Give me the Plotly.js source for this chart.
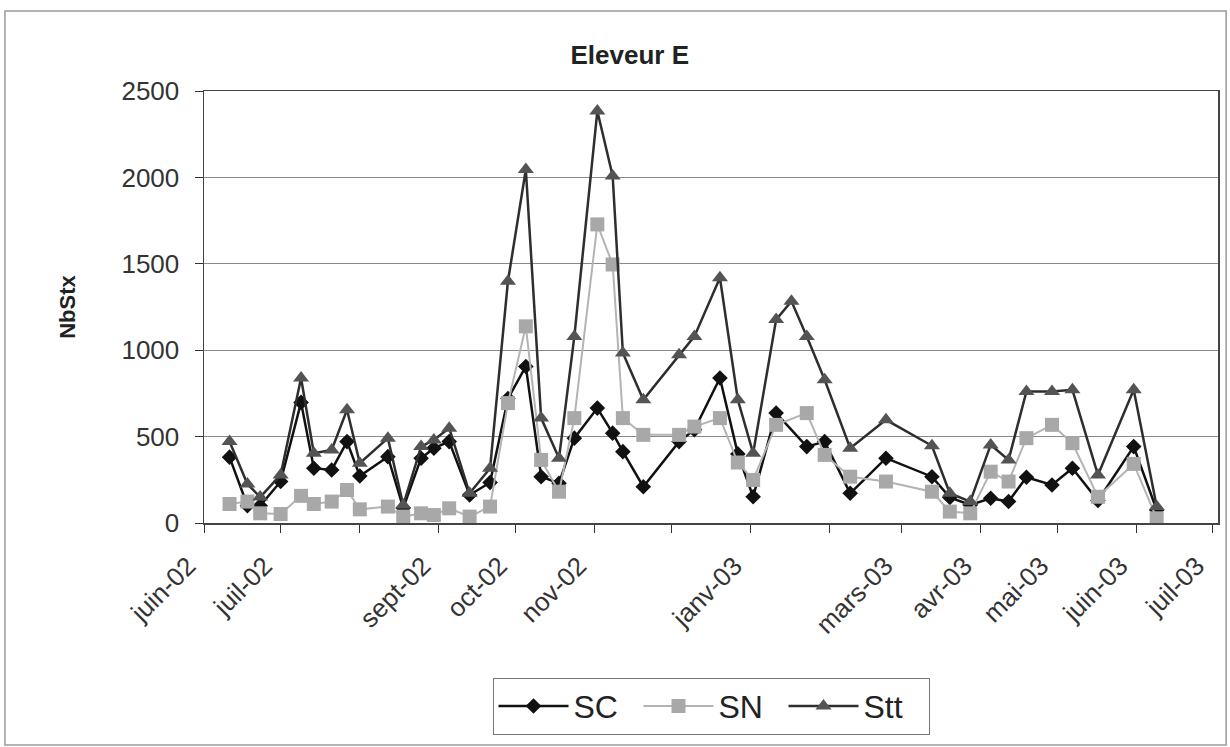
<!DOCTYPE html>
<html>
<head>
<meta charset="utf-8">
<script src="https://cdn.plot.ly/plotly-3.0.1.min.js"></script>
<style>html,body{margin:0;padding:0;background:#fff;}#chart{width:1230px;height:747px;}</style>
</head>
<body>
<div id="chart"></div>
<script>
// Sampling dates
const dates = [
  '2002-06-11','2002-06-18','2002-06-23','2002-07-01','2002-07-09','2002-07-14','2002-07-21','2002-07-27',
  '2002-08-01','2002-08-12','2002-08-18','2002-08-25','2002-08-30','2002-09-05','2002-09-13','2002-09-21',
  '2002-09-28','2002-10-05','2002-10-11','2002-10-18','2002-10-24','2002-11-02','2002-11-08','2002-11-12',
  '2002-11-20','2002-12-04','2002-12-10','2002-12-20','2002-12-27','2003-01-02','2003-01-11','2003-01-17',
  '2003-01-23','2003-01-30','2003-02-09','2003-02-23','2003-03-13','2003-03-20','2003-03-28','2003-04-05',
  '2003-04-12','2003-04-19','2003-04-29','2003-05-07','2003-05-17','2003-05-31','2003-06-09'
];
// Series values
const SC = [
  381,100,100,240,698,317,307,471,
  272,384,87,375,433,471,162,234,
  720,906,268,230,491,665,520,413,
  210,471,540,839,400,152,636,null,
  442,471,172,375,268,148,104,143,
  124,265,220,317,130,442,75
];
const SN = [
  110,124,56,52,157,110,124,191,
  79,95,37,56,46,85,37,95,
  694,1138,365,181,607,1728,1496,607,
  510,510,558,607,350,249,568,null,
  636,394,268,240,181,66,56,297,
  240,491,568,462,152,342,27
];
const Stt = [
  471,226,150,278,839,404,423,655,
  346,491,104,442,481,549,172,317,
  1399,2046,607,375,1080,2384,2008,984,
  713,974,1080,1419,713,404,1177,1283,
  1080,829,433,597,447,172,124,452,
  365,761,761,771,278,771,95
];
// Axis ticks
const tickDates = ['2002-06-01','2002-07-01','2002-08-01','2002-09-01','2002-10-01','2002-11-01','2002-12-01',
  '2003-01-01','2003-02-01','2003-03-01','2003-04-01','2003-05-01','2003-06-01','2003-07-01'];
const tickLabels = ['juin-02','juil-02','','sept-02','oct-02','nov-02','','janv-03','','mars-03','avr-03','mai-03','juin-03','juil-03'];
const yTicks = [0,500,1000,1500,2000,2500];

const FONT = 'Liberation Sans, Arial, sans-serif';

const traces = [
  {x: dates, y: SC, name: 'SC', type: 'scatter', mode: 'lines+markers', connectgaps: true,
   line: {color: '#111111', width: 2.5},
   marker: {symbol: 'diamond', size: 12, color: '#111111'}},
  {x: dates, y: SN, name: 'SN', type: 'scatter', mode: 'lines+markers', connectgaps: true,
   line: {color: '#b4b4b4', width: 2},
   marker: {symbol: 'square', size: 14, color: '#a8a8a8'}},
  {x: dates, y: Stt, name: 'Stt', type: 'scatter', mode: 'lines+markers', connectgaps: true,
   line: {color: '#2e2e2e', width: 2.5},
   marker: {symbol: 'triangle-up', size: 14, color: '#545454'}}
];

const layout = {
  width: 1230, height: 747,
  paper_bgcolor: '#ffffff', plot_bgcolor: '#ffffff',
  margin: {l: 204, r: 12, t: 91, b: 224},
  font: {family: FONT, color: '#222'},
  title: {text: '<b>Eleveur E</b>', font: {family: FONT, size: 26, color: '#222'},
          xref: 'container', x: 0.512, xanchor: 'center', yref: 'container', y: 0.926, yanchor: 'middle'},
  showlegend: true,
  legend: {orientation: 'h', x: 0.5, xanchor: 'center', y: -0.358, yanchor: 'top',
           font: {family: FONT, size: 32, color: '#222'},
           itemwidth: 70, entrywidth: 60, entrywidthmode: 'pixels',
           bordercolor: '#777', borderwidth: 1, bgcolor: '#fff', traceorder: 'normal'},
  xaxis: {
    type: 'date', range: ['2002-06-01', '2003-07-03'],
    tickmode: 'array', tickvals: tickDates, ticktext: tickLabels,
    tickangle: -45, tickfont: {family: FONT, size: 26, color: '#333'},
    ticklabelshift: -16, ticklabelstandoff: 8,
    ticks: 'outside', ticklen: 8, tickcolor: '#333', tickwidth: 1,
    showgrid: false, zeroline: false,
    showline: true, linecolor: '#444', linewidth: 1.5, mirror: true,
    automargin: false
  },
  yaxis: {
    range: [0, 2500], tickmode: 'array', tickvals: yTicks,
    tickfont: {family: FONT, size: 26, color: '#333'},
    ticks: 'outside', ticklen: 8, tickcolor: '#333', tickwidth: 1,
    ticklabelstandoff: 10,
    showgrid: true, gridcolor: '#8a8a8a', gridwidth: 1,
    zeroline: false, showline: true, linecolor: '#444', linewidth: 1.5, mirror: true,
    title: {text: '<b>NbStx</b>', font: {family: FONT, size: 22, color: '#222'}, standoff: 40},
    automargin: false
  },
  shapes: [
    {type: 'rect', xref: 'paper', yref: 'paper', x0: -0.1963, x1: 1.008, y0: -0.514, y1: 1.185,
     line: {color: '#9a9a9a', width: 1.5}, fillcolor: 'rgba(0,0,0,0)', layer: 'below'}
  ]
};

Plotly.newPlot('chart', traces, layout, {displayModeBar: false, staticPlot: true});
</script>
</body>
</html>
